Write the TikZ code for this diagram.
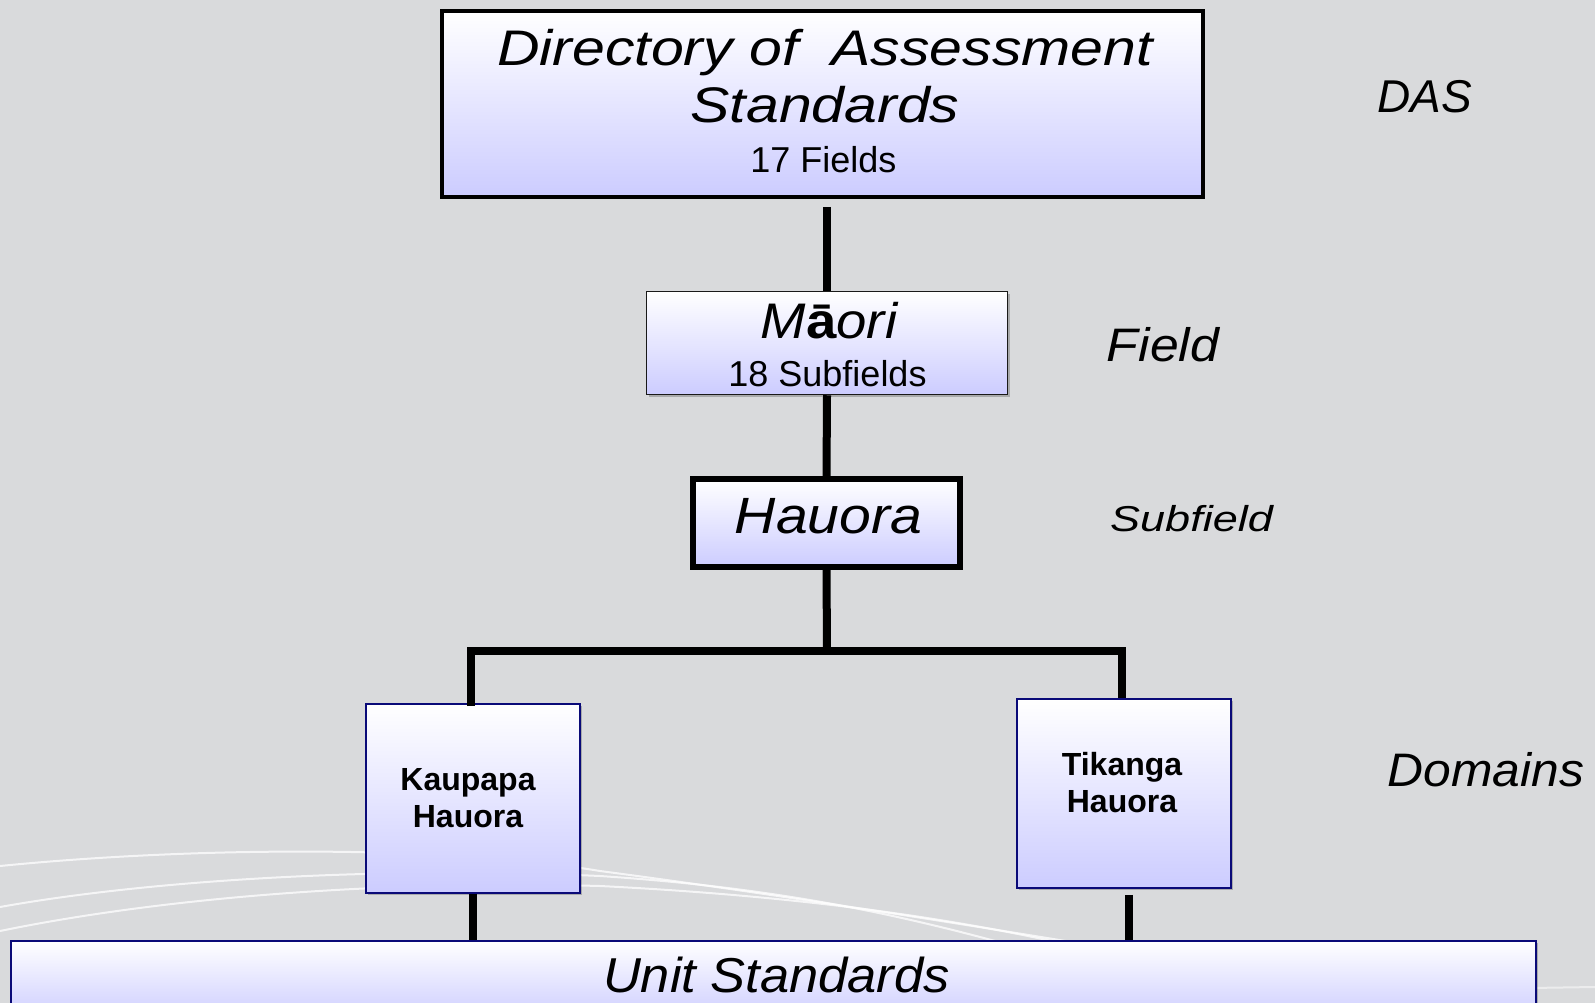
\documentclass[tikz,border=0pt]{standalone}
\usepackage{fontspec}
\usepackage{graphicx}
\setmainfont{Liberation Sans}
\usetikzlibrary{shadows}
\definecolor{bg}{RGB}{217,218,220}
\definecolor{lav}{RGB}{204,204,255}
\definecolor{navy}{RGB}{10,10,120}
\newcommand{\stretchtxt}[2]{\scalebox{#1}[1]{#2}}
\begin{document}
\begin{tikzpicture}[x=1pt,y=-1pt,
  box/.style={rectangle, inner sep=0pt, top color=white, bottom color=lav},
  shadowed/.style={drop shadow={shadow xshift=2pt, shadow yshift=-2pt, fill=black, opacity=0.22}},
  dombox/.style={box, draw=navy, line width=1.8pt, shadowed},
  conn/.style={line width=8pt, black},
  swoosh/.style={white, opacity=0.75, line width=2pt},
  txt/.style={anchor=base, inner sep=0pt}]
\useasboundingbox (0,0) rectangle (1595,1003);
\fill[bg] (0,0) rectangle (1595,1003);
% background swooshes
\draw[swoosh] (0,866) .. controls (200,846) and (450,846) .. (600,871) .. controls (760,892) and (950,922) .. (1090,945);
\draw[swoosh] (0,907) .. controls (150,880) and (380,866) .. (600,876) .. controls (780,888) and (900,915) .. (1010,945);
\draw[swoosh] (0,931) .. controls (160,898) and (380,880) .. (600,886) .. controls (800,896) and (950,918) .. (1070,945);
\draw[swoosh, opacity=0.5] (1530,988) -- (1595,987);
% boxes
\node[box, draw=black, line width=4pt, minimum width=761pt, minimum height=186pt, shadowed] (das) at (822.5,104) {};
\node[box, draw=black!90, line width=1.5pt, minimum width=361pt, minimum height=103pt, shadowed] (maori) at (827,343) {};
\node[box, draw=black, line width=6pt, minimum width=267pt, minimum height=88pt, shadowed] (hauora) at (826.5,523) {};
\node[dombox, minimum width=214pt, minimum height=189pt] (kaupapa) at (473,798.5) {};
\node[dombox, minimum width=214pt, minimum height=189pt] (tikanga) at (1124,793.5) {};
\node[dombox, minimum width=1525pt, minimum height=80pt] (unit) at (773.5,981) {};
% connectors
\coordinate (bus) at (827,651);
\coordinate (tk) at ([xshift=5pt]tikanga.south);
\draw[conn, shorten <=8pt] (das.south -| maori.north) -- (maori.north);
\draw[conn] (maori.south) -- (hauora.north);
\draw[conn] (hauora.south) -- (bus);
\draw[conn] ([xshift=-2pt,yshift=-3pt]kaupapa.north) |- (bus) -| ([xshift=-2pt]tikanga.north);
\draw[conn] (kaupapa.south) -- (kaupapa.south |- unit.north);
\draw[conn, shorten <=6pt] (tk) -- (tk |- unit.north);
% texts in boxes
\node[txt, font=\fontsize{50}{58}\selectfont\itshape] (dasA) at (825,66) {\stretchtxt{1.18}{Directory of\ \ Assessment}};
\node[txt, font=\fontsize{50}{58}\selectfont\itshape] (dasB) at (825,123) {\stretchtxt{1.18}{Standards}};
\node[txt, font=\fontsize{36}{42}\selectfont] (dasC) at (823.5,173) {17 Fields};
\node[txt, font=\fontsize{50}{58}\selectfont\itshape] (maoriA) at (829,338) {\stretchtxt{1.09}{M{\upshape\bfseries ā}ori}};
\node[txt, font=\fontsize{36}{42}\selectfont] (maoriB) at (827.5,386.5) {18 Subfields};
\node[txt, font=\fontsize{51}{58}\selectfont\itshape] (hauoraT) at (828.5,533) {\stretchtxt{1.12}{Hauora}};
\node[txt, font=\fontsize{32}{37}\selectfont\bfseries] (kaupA) at (468,790) {Kaupapa};
\node[txt, font=\fontsize{32}{37}\selectfont\bfseries] (kaupB) at (468,827) {Hauora};
\node[txt, font=\fontsize{32}{37}\selectfont\bfseries] (tikA) at (1122,775) {Tikanga};
\node[txt, font=\fontsize{32}{37}\selectfont\bfseries] (tikB) at (1122,812) {Hauora};
\node[txt, font=\fontsize{49}{56}\selectfont\itshape] (unitT) at (776.5,992) {\stretchtxt{1.07}{Unit Standards}};
% level labels
\node[txt, font=\fontsize{46}{52}\selectfont\itshape] (lDAS) at (1424.5,113) {DAS};
\node[txt, font=\fontsize{47}{52}\selectfont\itshape] (lField) at (1163,361) {\stretchtxt{1.10}{Field}};
\node[txt, font=\fontsize{36}{42}\selectfont\itshape] (lSub) at (1191.5,531) {\stretchtxt{1.25}{Subfield}};
\node[txt, font=\fontsize{47}{52}\selectfont\itshape] (lDom) at (1486,786) {\stretchtxt{1.06}{Domains}};
\end{tikzpicture}
\end{document}
